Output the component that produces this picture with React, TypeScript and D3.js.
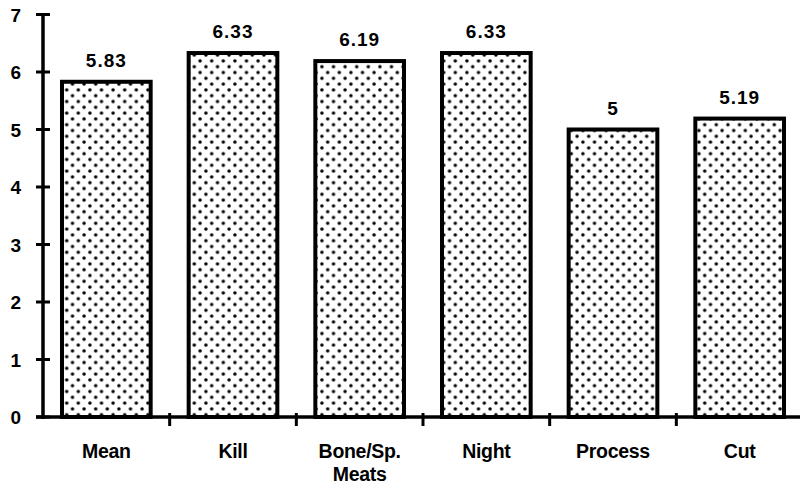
import React from "react";
import * as d3 from "d3";

const categories: string[][] = [["Mean"], ["Kill"], ["Bone/Sp.", "Meats"], ["Night"], ["Process"], ["Cut"]];
const values: number[] = [5.83, 6.33, 6.19, 6.33, 5, 5.19];
const valueLabels: string[] = ["5.83", "6.33", "6.19", "6.33", "5", "5.19"];
const yTicks: number[] = [0, 1, 2, 3, 4, 5, 6, 7];

const W = 800;
const H = 493;
const x0 = 43;
const x1 = 803;
const yTop = 14.5;
const yBase = 417;

export default function App() {
  const keys = categories.map((_, i) => String(i));
  const x = d3.scaleBand<string>().domain(keys).range([x0, x1]).paddingInner(0.3).paddingOuter(0.15);
  const band = d3.scaleBand<string>().domain(keys).range([x0, x1]);
  const y = d3.scaleLinear().domain([0, 7]).range([yBase, yTop]);
  const font = "'Liberation Sans', Arial, Helvetica, sans-serif";

  return (
    <svg width={W} height={H} style={{ position: "absolute", left: 0, top: 0, background: "#fff" }}>
      <defs>
        <pattern id="dots" width="11.6" height="11.6" patternUnits="userSpaceOnUse">
          <rect width="11.6" height="11.6" fill="#fff" />
          <circle cx="2.9" cy="2.9" r="1.75" fill="#000" />
          <circle cx="8.7" cy="8.7" r="1.75" fill="#000" />
        </pattern>
      </defs>

      {values.map((v, i) => (
        <rect
          key={i}
          x={x(String(i))!}
          y={y(v)}
          width={x.bandwidth()}
          height={yBase - y(v)}
          fill="url(#dots)"
          stroke="#000"
          strokeWidth={4}
        />
      ))}

      {values.map((v, i) => (
        <text
          key={"v" + i}
          x={x(String(i))! + x.bandwidth() / 2}
          y={y(v) - 15}
          textAnchor="middle"
          fontFamily={font}
          fontWeight="bold"
          fontSize={19}
          letterSpacing={1}
        >
          {valueLabels[i]}
        </text>
      ))}

      {/* y axis */}
      <line x1={x0} x2={x0} y1={y(7)} y2={yBase + 2} stroke="#000" strokeWidth={3.5} />
      {yTicks.map((t) => (
        <g key={"t" + t}>
          <line x1={x0 - 7} x2={x0 + 7} y1={y(t)} y2={y(t)} stroke="#000" strokeWidth={3} />
          <text
            x={21}
            y={y(t) + 7}
            textAnchor="end"
            fontFamily={font}
            fontWeight="bold"
            fontSize={19}
          >
            {t}
          </text>
        </g>
      ))}

      {/* x axis */}
      <line x1={x0 - 7} x2={W} y1={yBase} y2={yBase} stroke="#000" strokeWidth={3.5} />
      {keys.slice(1).map((k) => (
        <line key={"xt" + k} x1={band(k)!} x2={band(k)!} y1={yBase - 4} y2={yBase + 9} stroke="#000" strokeWidth={3} />
      ))}

      {categories.map((lines, i) => (
        <text
          key={"c" + i}
          y={458}
          textAnchor="middle"
          fontFamily={font}
          fontWeight="bold"
          fontSize={19.5}
          letterSpacing={-0.3}
        >
          {lines.map((l, j) => (
            <tspan key={j} x={band(String(i))! + band.bandwidth() / 2} dy={j === 0 ? 0 : 23}>
              {l}
            </tspan>
          ))}
        </text>
      ))}
    </svg>
  );
}
